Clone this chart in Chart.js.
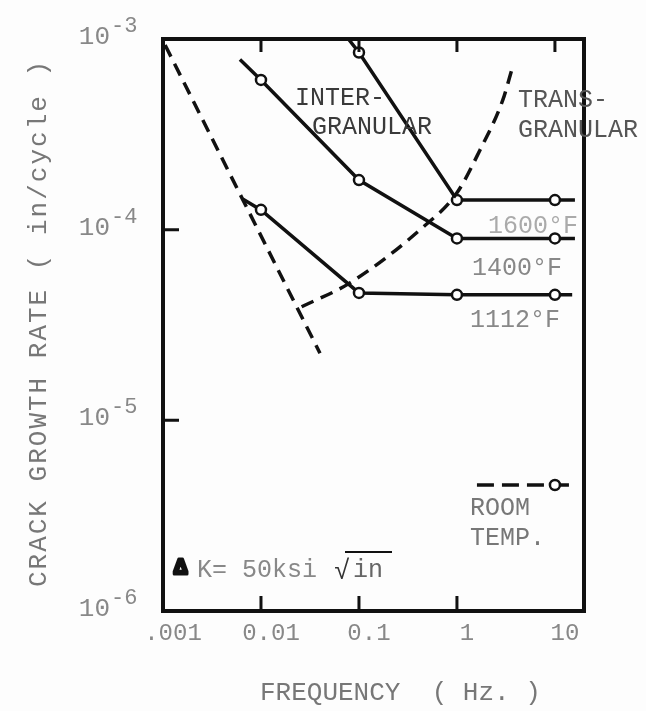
<!DOCTYPE html>
<html>
<head>
<meta charset="utf-8">
<script src="https://cdn.jsdelivr.net/npm/chart.js@4/dist/chart.umd.min.js"></script>
<style>
  html, body { margin: 0; padding: 0; background: #fdfdfd; }
  #wrap { width: 646px; height: 711px; position: relative; }
</style>
</head>
<body>
<div id="wrap"><canvas id="crackChart"></canvas></div>
<script>
// Crack growth rate (in/cycle) vs frequency (Hz)
const freq1600 = [0.078, 0.1, 1, 10, 16];
const rate1600 = [1.0e-3, 8.5e-4, 1.43e-4, 1.43e-4, 1.43e-4];
const mark1600 = [false, true, true, true, false];

const freq1400 = [0.0061, 0.01, 0.1, 1, 10, 16];
const rate1400 = [7.8e-4, 6.1e-4, 1.82e-4, 9.0e-5, 9.0e-5, 9.0e-5];
const mark1400 = [false, true, true, true, true, false];

const freq1112 = [0.0065, 0.01, 0.1, 1, 10, 15];
const rate1112 = [1.45e-4, 1.27e-4, 4.66e-5, 4.55e-5, 4.55e-5, 4.55e-5];
const mark1112 = [false, true, true, true, true, false];

const freqRoom = [1.6, 10, 16];
const rateRoom = [4.58e-6, 4.58e-6, 4.58e-6];
const markRoom = [false, true, false];

// Dashed boundaries
const freqLeftBound = [0.00105, 0.04];
const rateLeftBound = [9.3e-4, 2.25e-5];
const freqTransition = [0.026, 0.081, 0.45, 1.0, 1.72, 2.94, 3.6];
const rateTransition = [3.94e-5, 5.26e-5, 1.03e-4, 1.56e-4, 2.62e-4, 4.79e-4, 6.8e-4];

// Axis ticks
const xTickValues = [0.001, 0.01, 0.1, 1, 10];
const xTickLabels = ['.001', '0.01', '0.1', '1', '10'];
const yTickValues = [1e-3, 1e-4, 1e-5, 1e-6];
const yTickExps = ['-3', '-4', '-5', '-6'];

const INK = '#111';
const MONO = '"Liberation Mono", "DejaVu Sans Mono", monospace';

const series = (xs, ys, marks, dash) => ({
  data: xs.map((x, i) => ({ x, y: ys[i] })),
  borderColor: INK,
  borderWidth: 3.5,
  borderDash: dash || [],
  pointRadius: marks ? marks.map(m => (m ? 5 : 0)) : 0,
  pointBackgroundColor: '#fff',
  pointBorderColor: INK,
  pointBorderWidth: 2.5,
  tension: 0,
  fill: false
});

const text = (ctx, str, x, y, size, color, align) => {
  ctx.font = size + 'px ' + MONO;
  ctx.fillStyle = color;
  ctx.textAlign = align || 'left';
  ctx.textBaseline = 'alphabetic';
  ctx.fillText(str, x, y);
};

// Frame, inward ticks and typed labels
const paperPlugin = {
  id: 'paper',
  afterDatasetsDraw(chart) {
    const { ctx, chartArea: a } = chart;
    const xs = chart.scales.x, ys = chart.scales.y;
    ctx.save();
    ctx.strokeStyle = INK;
    ctx.lineWidth = 4;
    ctx.strokeRect(a.left, a.top, a.right - a.left, a.bottom - a.top);

    ctx.lineWidth = 3;
    ctx.beginPath();
    [0.01, 0.1, 1, 10].forEach(v => {
      const px = xs.getPixelForValue(v);
      ctx.moveTo(px, a.top); ctx.lineTo(px, a.top + 13);
    });
    [0.01, 0.1, 1].forEach(v => {
      const px = xs.getPixelForValue(v);
      ctx.moveTo(px, a.bottom); ctx.lineTo(px, a.bottom - 15);
    });
    [1e-4, 1e-5].forEach(v => {
      const py = ys.getPixelForValue(v);
      ctx.moveTo(a.left, py); ctx.lineTo(a.left + 16, py);
    });
    ctx.stroke();

    // x tick labels
    xTickValues.forEach((v, i) => {
      text(ctx, xTickLabels[i], xs.getPixelForValue(v) + 10, a.bottom + 29, 24, '#888', 'center');
    });
    // y tick labels 10^n
    yTickValues.forEach((v, i) => {
      const py = ys.getPixelForValue(v);
      text(ctx, '10', 110, py + 5, 26, '#888', 'right');
      text(ctx, yTickExps[i], 111, py - 7, 22, '#888', 'left');
    });

    // region / curve notes
    text(ctx, 'INTER-', 295, 105, 25, '#3a3a3a');
    text(ctx, 'GRANULAR', 312, 134, 25, '#3a3a3a');
    text(ctx, 'TRANS-', 518, 107, 25, '#555');
    text(ctx, 'GRANULAR', 518, 137, 25, '#555');
    text(ctx, '1600°F', 488, 233, 25, '#aaa');
    text(ctx, '1400°F', 472, 275, 25, '#888');
    text(ctx, '1112°F', 470, 327, 25, '#888');
    text(ctx, 'ROOM', 470, 515, 25, '#777');
    text(ctx, 'TEMP.', 470, 545, 25, '#777');

    // ΔK = 50 ksi √in (inked-in delta)
    ctx.font = 'bold 22px ' + MONO;
    ctx.fillStyle = INK;
    ctx.textAlign = 'left';
    ctx.lineWidth = 3;
    ctx.lineJoin = 'round';
    ctx.strokeText('Δ', 174, 574);
    ctx.fillText('Δ', 174, 574);
    text(ctx, 'K= 50ksi', 197, 577, 25, '#888');
    text(ctx, '√', 334, 579, 27, '#333');
    text(ctx, 'in', 353, 577, 25, '#666');
    ctx.lineWidth = 2;
    ctx.beginPath();
    ctx.moveTo(345, 552); ctx.lineTo(392, 552);
    ctx.stroke();

    // axis titles
    text(ctx, 'FREQUENCY  ( Hz. )', 260, 700, 26, '#777');
    ctx.translate(46, 323);
    ctx.rotate(-Math.PI / 2);
    ctx.letterSpacing = '2px';
    text(ctx, 'CRACK GROWTH RATE ( in/cycle )', 0, 0, 26, '#777', 'center');
    ctx.restore();
  }
};

const transition = series(freqTransition, rateTransition, null, [13, 8]);
transition.cubicInterpolationMode = 'monotone';

new Chart(document.getElementById('crackChart'), {
  type: 'line',
  data: {
    datasets: [
      series(freqLeftBound, rateLeftBound, null, [13, 8]),
      transition,
      series(freq1600, rate1600, mark1600),
      series(freq1400, rate1400, mark1400),
      series(freq1112, rate1112, mark1112),
      series(freqRoom, rateRoom, markRoom, [17, 8])
    ]
  },
  options: {
    responsive: true,
    maintainAspectRatio: false,
    animation: false,
    layout: { padding: { left: 163, right: 62, top: 39, bottom: 100 } },
    plugins: {
      legend: { display: false },
      tooltip: { enabled: false }
    },
    scales: {
      x: { type: 'logarithmic', min: 0.001, max: 19.8, display: false },
      y: { type: 'logarithmic', min: 1e-6, max: 1e-3, display: false }
    }
  },
  plugins: [paperPlugin]
});
</script>
</body>
</html>
